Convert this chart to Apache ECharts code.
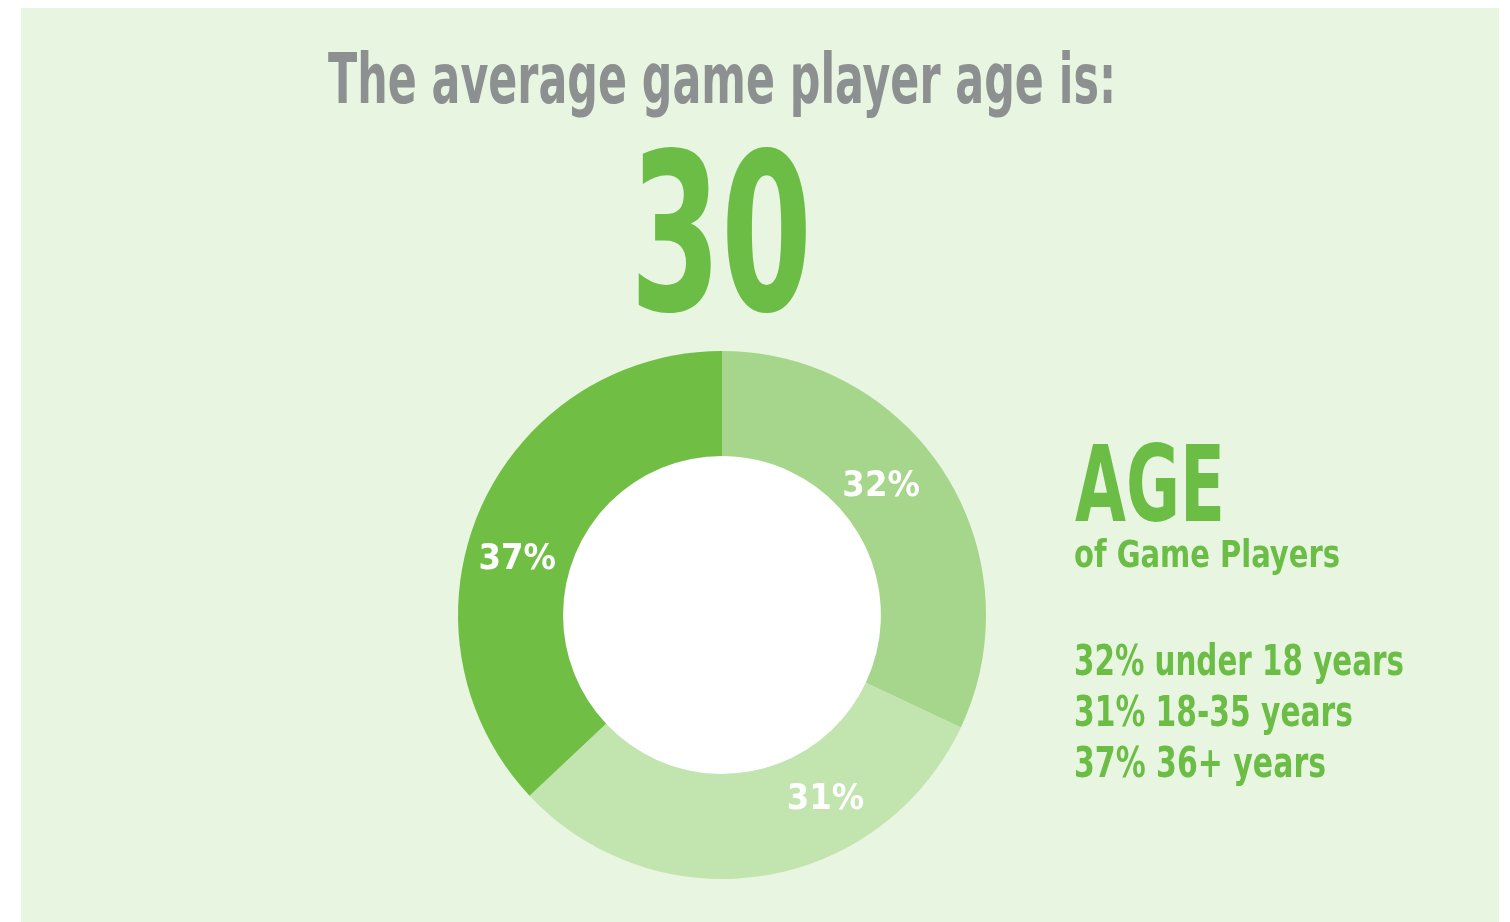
<!DOCTYPE html>
<html><head><meta charset="utf-8">
<script src="https://cdn.jsdelivr.net/npm/echarts@6/dist/echarts.min.js"></script>
<style>html,body{margin:0;padding:0;background:#fff}#c{width:1510px;height:922px}</style>
</head><body><div id="c"></div>
<script>
// ---- data ----
const categories = ['under 18 years', '18-35 years', '36+ years'];
const shares = [32, 31, 37];
const averageAge = 30;
const titleText = 'The average game player age is:';
const headline = 'AGE';
const subHeadline = 'of Game Players';

// ---- styles ----
const FAM = '"Liberation Sans Narrow","DejaVu Sans Condensed","Arial Narrow",sans-serif';
const sliceColors = ['#a6d68b', '#c2e4ae', '#70bf44'];
const labelOffsets = [[-22, -13], [70, -27], [-8, 30]];
const green = '#6bbd46';
const gray = '#8d9091';

const mctx = document.createElement('canvas').getContext('2d');
function fitText(text, size, x, y, width, fill) {
  const font = 'bold ' + size + 'px ' + FAM;
  mctx.font = font;
  const w = mctx.measureText(text).width;
  return {
    type: 'text', x: x, y: y + 0.1 * size, scaleX: width / w, z: 10, silent: true,
    style: { text: text, font: font, fill: fill, align: 'left', verticalAlign: 'middle' }
  };
}

const legendLines = shares.map((v, i) => v + '% ' + categories[i]);
const legendWidths = [330, 279, 252];
const legendY = [660, 711, 762];

const graphics = [
  { type: 'rect', z: -10, silent: true, shape: { x: 21, y: 8, width: 1478, height: 914 }, style: { fill: '#e8f5e0' } },
  fitText(titleText, 69, 328, 78, 788, gray),
  fitText(String(averageAge), 220, 630, 231, 182, green),
  fitText(headline, 106, 1075, 483, 150, green),
  fitText(subHeadline, 37, 1074, 554, 266, green)
].concat(legendLines.map((t, i) => fitText(t, 42, 1074, legendY[i], legendWidths[i], green)));

const chart = echarts.init(document.getElementById('c'));
chart.setOption({
  backgroundColor: '#ffffff',
  animation: false,
  graphic: graphics,
  series: [
    {
      type: 'pie', center: [722, 615], radius: [0, 159], silent: true, z: 1,
      label: { show: false }, labelLine: { show: false },
      data: [{ value: 1, itemStyle: { color: '#ffffff' } }]
    },
    {
      type: 'pie', center: [722, 615], radius: [159, 264], startAngle: 90, clockwise: true, silent: true,
      label: { show: true, position: 'inside', formatter: '{c}%', color: '#ffffff', fontFamily: FAM, fontWeight: 'bold', fontSize: 36 },
      labelLine: { show: false },
      emphasis: { disabled: true },
      data: shares.map((v, i) => ({ value: v, name: categories[i], itemStyle: { color: sliceColors[i] }, label: { offset: labelOffsets[i] } }))
    }
  ]
});
</script></body></html>
